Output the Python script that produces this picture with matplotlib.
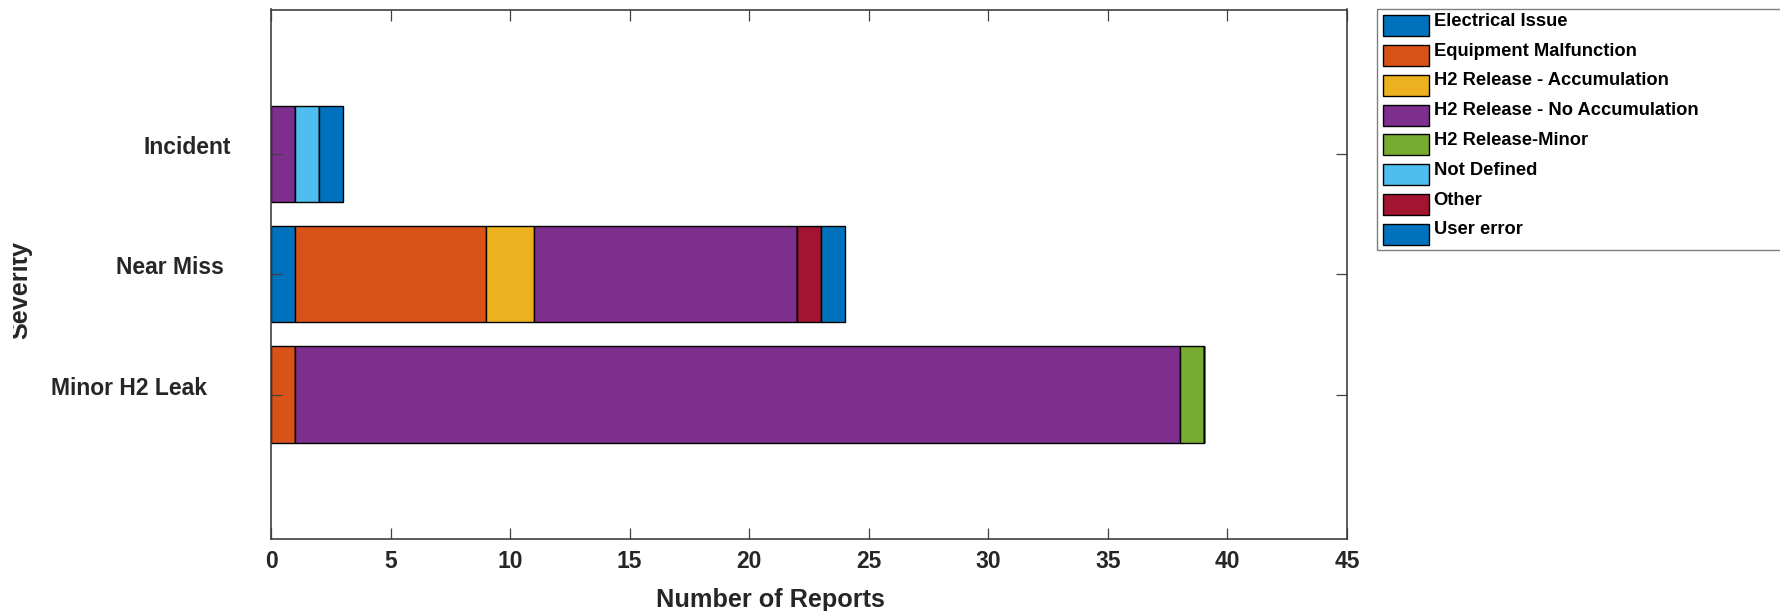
import matplotlib
matplotlib.use("Agg")
import matplotlib.pyplot as plt
import numpy as np
from matplotlib.transforms import ScaledTranslation, Bbox, TransformedBbox
from matplotlib.patches import Rectangle
from matplotlib.container import BarContainer
from matplotlib.legend_handler import HandlerPatch, update_from_first_child

plt.rcParams['font.family'] = ['Liberation Sans', 'DejaVu Sans']
plt.rcParams['font.weight'] = 'bold'

# ---- data ----
categories = ['Minor H2 Leak', 'Near Miss', 'Incident']
causes = ['Electrical Issue', 'Equipment Malfunction', 'H2 Release - Accumulation',
          'H2 Release - No Accumulation', 'H2 Release-Minor', 'Not Defined',
          'Other', 'User error']
electrical_issue = [0, 1, 0]
equipment_malfunction = [1, 8, 0]
h2_accumulation = [0, 2, 0]
h2_no_accumulation = [37, 11, 1]
h2_minor = [1, 0, 0]
not_defined = [0, 0, 1]
other = [0, 1, 0]
user_error = [0, 1, 1]
series = [electrical_issue, equipment_malfunction, h2_accumulation, h2_no_accumulation,
          h2_minor, not_defined, other, user_error]
colors = ['#0072BD', '#D95319', '#EDB120', '#7E2F8E', '#77AC30', '#4DBEEE', '#A2142F', '#0072BD']
x_ticks = [0, 5, 10, 15, 20, 25, 30, 35, 40, 45]

W, H = 1781, 611
fig = plt.figure(figsize=(W / 100, H / 100), dpi=100)
ax_l, ax_r, ax_t, ax_b = 271, 1347, 9.5, 539
ax = fig.add_axes([ax_l / W, 1 - ax_b / H, (ax_r - ax_l) / W, (ax_b - ax_t) / H])

ypos = np.arange(1, len(categories) + 1)
left = np.zeros(len(categories))
for name, vals, c in zip(causes, series, colors):
    vals = np.array(vals, dtype=float)
    ax.barh(ypos, vals, left=left, height=0.8, color=c, edgecolor='black',
            linewidth=1.0, label=name)
    left += vals

ax.set_xlim(0, 45)
ax.set_ylim(-0.2, 4.2)
ax.set_xticks(x_ticks)
ax.set_xticklabels([str(t) for t in x_ticks])
ax.set_yticks(ypos)
ax.set_yticklabels(categories)

axc = '#404040'
for s in ax.spines.values():
    s.set_color(axc)
    s.set_linewidth(1.2)
ax.tick_params(axis='both', direction='in', length=7.9, width=0.9, color=axc,
               top=True, right=True, labelcolor='#262626', labelsize=16.5)
ax.tick_params(axis='x', pad=8)
ax.tick_params(axis='y', pad=28.8)

# individual label offsets / baseline alignment as in the reference
offsets_px = {'Incident': 0, 'Near Miss': 7, 'Minor H2 Leak': 24}
for lab in ax.get_yticklabels():
    lab.set_va('baseline')
    lab.set_fontweight('bold')
    dx = offsets_px.get(lab.get_text(), 0)
    lab.set_transform(lab.get_transform() + ScaledTranslation(-dx / 100, 0, fig.dpi_scale_trans))
for lab in ax.get_xticklabels():
    lab.set_fontweight('bold')

ax.set_xlabel('Number of Reports', fontsize=18.15, fontweight='bold', color='#262626')
ax.xaxis.label.set_va('baseline')
ax.xaxis.set_label_coords((770.5 - ax_l) / (ax_r - ax_l), (ax_b - 607) / (ax_b - ax_t))

ax.set_ylabel('Severity', fontsize=18.15, fontweight='bold', color='#262626')
ax.yaxis.set_label_coords((32 - ax_l) / (ax_r - ax_l), (ax_b - 290) / (ax_b - ax_t))
ax.yaxis.label.set_clip_box(TransformedBbox(Bbox.from_extents(13 / W, 0, 1, 1), fig.transFigure))
ax.yaxis.label.set_clip_on(True)

# legend swatch: 46x21 px box, vertically centred on the text baseline
PT = 0.72  # points per pixel at 100 dpi


def swatch(legend, orig_handle, xdescent, ydescent, width, height, fontsize):
    return Rectangle((-xdescent + 2 * PT, -10.5 * PT), 46 * PT, 21 * PT)


leg = ax.legend(loc='upper left',
                bbox_to_anchor=(1377 / W, 1 - 250 / H, (1900 - 1377) / W, (250 - 9) / H),
                bbox_transform=fig.transFigure, mode='expand', borderaxespad=0,
                prop={'size': 13.2, 'weight': 'bold'}, handlelength=2.62, handleheight=0.7,
                handletextpad=0.27, labelspacing=0.70, borderpad=0.2, fancybox=False,
                frameon=False,
                handler_map={BarContainer: HandlerPatch(patch_func=swatch,
                                                        update_func=update_from_first_child)})
for t in leg.get_texts():
    t.set_color('black')

# legend frame (extends past the right edge of the figure, as in the reference)
frame_top, frame_bottom, frame_left = 9.3, 250, 1377
fig.add_artist(Rectangle((frame_left / W, 1 - frame_bottom / H), (1900 - frame_left) / W,
                         (frame_bottom - frame_top) / H, transform=fig.transFigure,
                         fill=False, edgecolor='#7f7f7f', linewidth=1.0, zorder=5))

fig.savefig('out.png', dpi=100)
